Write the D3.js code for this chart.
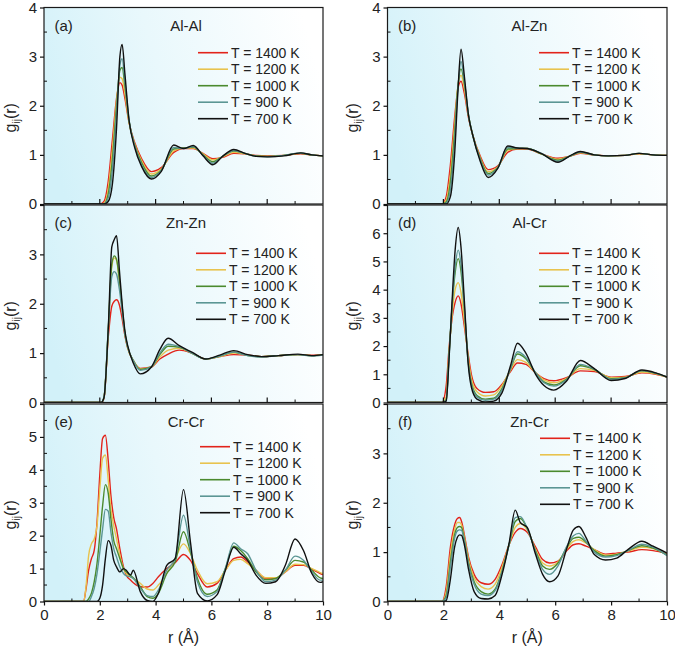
<!DOCTYPE html>
<html>
<head>
<meta charset="utf-8">
<script src="https://cdn.jsdelivr.net/npm/d3@7"></script>
<style>
  html, body { margin: 0; padding: 0; background: #ffffff; }
  svg { display: block; font-family: Arial, "Liberation Sans", sans-serif; }
</style>
</head>
<body>
<svg id="chart" width="675" height="650"></svg>
<script>
// ---------------- DATA ----------------
const tempLabels = ["T = 1400 K", "T = 1200 K", "T = 1000 K", "T = 900 K", "T = 700 K"];

// (a) Al-Al
const rAlAl = [0, 2.0, 2.15, 2.3, 2.45, 2.6, 2.72, 2.8, 2.9, 3.05, 3.25, 3.5, 3.85, 4.2, 4.65, 5.0, 5.35, 5.7, 6.05, 6.4, 6.8, 7.2, 7.6, 8.0, 8.6, 9.2, 9.6, 10];
const gAlAl_1400 = [0, 0, 0.05, 0.45, 1.3, 2.15, 2.47, 2.42, 2.15, 1.65, 1.25, 0.92, 0.66, 0.74, 1.05, 1.13, 1.13, 1.03, 0.92, 0.95, 1.03, 1.02, 0.99, 0.98, 0.99, 1.02, 1.0, 0.98];
const gAlAl_1200 = [0, 0, 0.02, 0.3, 1.1, 2.1, 2.58, 2.55, 2.25, 1.65, 1.22, 0.88, 0.61, 0.71, 1.08, 1.14, 1.14, 1.02, 0.9, 0.96, 1.05, 1.02, 0.98, 0.97, 0.99, 1.03, 1.0, 0.98];
const gAlAl_1000 = [0, 0, 0, 0.2, 0.9, 2.0, 2.72, 2.78, 2.4, 1.68, 1.2, 0.84, 0.57, 0.69, 1.12, 1.14, 1.16, 1.0, 0.86, 0.97, 1.08, 1.03, 0.98, 0.97, 0.99, 1.03, 1.0, 0.98];
const gAlAl_900  = [0, 0, 0, 0.12, 0.7, 1.85, 2.82, 2.96, 2.5, 1.7, 1.18, 0.8, 0.54, 0.68, 1.15, 1.13, 1.17, 0.99, 0.83, 0.97, 1.09, 1.03, 0.97, 0.96, 0.99, 1.04, 1.0, 0.98];
const gAlAl_700  = [0, 0, 0, 0.05, 0.4, 1.55, 3.0, 3.25, 2.65, 1.7, 1.15, 0.76, 0.51, 0.66, 1.2, 1.13, 1.19, 0.98, 0.8, 0.97, 1.11, 1.03, 0.97, 0.96, 0.98, 1.04, 1.0, 0.98];

// (b) Al-Zn
const rAlZn = [0, 1.95, 2.1, 2.25, 2.4, 2.52, 2.63, 2.75, 2.9, 3.05, 3.3, 3.6, 3.95, 4.3, 4.65, 5.0, 5.5, 6.1, 6.5, 6.9, 7.4, 7.9, 8.5, 9.0, 9.5, 10];
const gAlZn_1400 = [0, 0, 0.15, 0.8, 1.75, 2.35, 2.5, 2.25, 1.75, 1.4, 1.0, 0.7, 0.78, 1.05, 1.12, 1.12, 1.02, 0.93, 0.97, 1.03, 1.0, 0.98, 0.99, 1.02, 1.0, 0.99];
const gAlZn_1200 = [0, 0, 0.08, 0.6, 1.6, 2.4, 2.62, 2.35, 1.78, 1.4, 0.97, 0.66, 0.76, 1.09, 1.13, 1.13, 1.02, 0.91, 0.97, 1.04, 1.0, 0.98, 0.99, 1.02, 1.0, 0.99];
const gAlZn_1000 = [0, 0, 0.04, 0.45, 1.45, 2.4, 2.75, 2.45, 1.8, 1.4, 0.95, 0.62, 0.75, 1.12, 1.13, 1.13, 1.02, 0.89, 0.97, 1.05, 1.0, 0.98, 0.99, 1.03, 1.0, 0.99];
const gAlZn_900  = [0, 0, 0.02, 0.3, 1.25, 2.35, 2.9, 2.5, 1.8, 1.4, 0.93, 0.59, 0.74, 1.15, 1.14, 1.13, 1.03, 0.87, 0.97, 1.06, 1.0, 0.98, 0.99, 1.03, 1.0, 0.99];
const gAlZn_700  = [0, 0, 0, 0.15, 1.0, 2.3, 3.15, 2.6, 1.8, 1.4, 0.9, 0.54, 0.73, 1.18, 1.14, 1.13, 1.03, 0.85, 0.97, 1.07, 1.0, 0.98, 0.99, 1.03, 1.0, 0.99];

// (c) Zn-Zn
const rZnZn = [0, 2.05, 2.15, 2.3, 2.43, 2.52, 2.6, 2.7, 2.8, 2.9, 3.0, 3.2, 3.45, 3.85, 4.15, 4.45, 4.85, 5.3, 5.8, 6.3, 6.8, 7.3, 7.8, 8.4, 9.1, 9.6, 10];
const gZnZn_1400 = [0, 0, 0.08, 1.3, 1.95, 2.05, 2.08, 1.98, 1.7, 1.35, 1.1, 0.85, 0.69, 0.72, 0.88, 0.98, 1.06, 1.0, 0.88, 0.93, 0.97, 0.96, 0.93, 0.95, 0.97, 0.96, 0.97];
const gZnZn_1200 = [0, 0, 0.1, 1.4, 2.75, 2.93, 2.88, 2.45, 1.9, 1.4, 1.1, 0.86, 0.68, 0.72, 0.92, 1.06, 1.1, 1.0, 0.88, 0.93, 1.0, 0.96, 0.93, 0.95, 0.97, 0.95, 0.96];
const gZnZn_1000 = [0, 0, 0.1, 1.45, 2.8, 2.97, 2.9, 2.5, 1.95, 1.4, 1.12, 0.85, 0.67, 0.72, 0.97, 1.14, 1.12, 1.0, 0.88, 0.94, 1.02, 0.95, 0.93, 0.95, 0.97, 0.95, 0.97];
const gZnZn_900  = [0, 0, 0.1, 1.45, 2.55, 2.65, 2.6, 2.3, 1.85, 1.4, 1.12, 0.85, 0.65, 0.72, 1.0, 1.18, 1.13, 1.0, 0.88, 0.94, 1.02, 0.95, 0.92, 0.95, 0.97, 0.94, 0.96];
const gZnZn_700  = [0, 0, 0.1, 1.45, 3.15, 3.3, 3.38, 2.7, 2.0, 1.45, 1.15, 0.8, 0.58, 0.72, 1.07, 1.3, 1.15, 1.02, 0.88, 0.96, 1.05, 0.97, 0.93, 0.95, 0.98, 0.95, 0.97];

// (d) Al-Cr
const rAlCr = [0, 1.95, 2.1, 2.2, 2.3, 2.42, 2.53, 2.63, 2.75, 2.88, 3.0, 3.2, 3.5, 3.8, 4.1, 4.4, 4.65, 4.95, 5.3, 5.6, 5.95, 6.4, 6.9, 7.4, 8.0, 8.5, 9.1, 9.6, 10];
const gAlCr_1400 = [0, 0, 0.6, 1.9, 2.9, 3.55, 3.78, 3.5, 2.7, 1.75, 1.0, 0.5, 0.36, 0.38, 0.65, 1.1, 1.4, 1.35, 1.05, 0.85, 0.77, 0.88, 1.12, 1.1, 0.9, 0.92, 1.05, 1.0, 0.9];
const gAlCr_1200 = [0, 0, 0.2, 1.75, 3.0, 4.0, 4.25, 3.9, 2.9, 1.65, 0.85, 0.38, 0.23, 0.27, 0.6, 1.15, 1.52, 1.42, 1.05, 0.8, 0.7, 0.85, 1.2, 1.14, 0.88, 0.9, 1.08, 1.02, 0.9];
const gAlCr_1000 = [0, 0, 0.1, 1.65, 3.25, 4.6, 5.1, 4.65, 3.3, 1.55, 0.7, 0.25, 0.12, 0.15, 0.5, 1.2, 1.72, 1.55, 1.05, 0.73, 0.62, 0.82, 1.3, 1.17, 0.84, 0.88, 1.12, 1.03, 0.9];
const gAlCr_900  = [0, 0, 0.08, 1.6, 3.3, 4.8, 5.4, 4.9, 3.4, 1.5, 0.65, 0.2, 0.08, 0.12, 0.45, 1.2, 1.8, 1.6, 1.05, 0.7, 0.58, 0.8, 1.35, 1.18, 0.82, 0.87, 1.13, 1.04, 0.9];
const gAlCr_700  = [0, 0, 0.05, 1.5, 3.4, 5.4, 6.2, 5.5, 3.6, 1.45, 0.55, 0.12, 0.02, 0.05, 0.35, 1.3, 2.1, 1.75, 1.0, 0.6, 0.44, 0.75, 1.49, 1.2, 0.78, 0.85, 1.15, 1.05, 0.9];

// (e) Cr-Cr
const rCrCr = [0, 1.42, 1.5, 1.6, 1.7, 1.8, 1.9, 2.0, 2.1, 2.2, 2.3, 2.4, 2.5, 2.6, 2.72, 2.85, 2.95, 3.1, 3.2, 3.45, 3.7, 3.9, 4.1, 4.4, 4.7, 5.0, 5.25, 5.5, 5.85, 6.2, 6.5, 6.8, 7.05, 7.3, 7.6, 7.95, 8.3, 8.65, 9.0, 9.3, 9.6, 9.9, 10];
const gCrCr_1400 = [0, 0, 0.35, 0.95, 1.3, 1.55, 2.4, 3.85, 4.95, 5.05, 4.3, 3.2, 2.55, 2.2, 1.6, 1.05, 0.8, 0.65, 0.57, 0.45, 0.44, 0.55, 0.75, 1.0, 1.18, 1.43, 1.25, 0.85, 0.44, 0.55, 0.95, 1.3, 1.35, 1.2, 0.95, 0.7, 0.7, 0.9, 1.1, 1.1, 0.98, 0.85, 0.82];
const gCrCr_1200 = [0, 0, 0.4, 1.4, 1.75, 1.9, 2.3, 3.4, 4.35, 4.45, 3.7, 2.8, 2.3, 1.9, 1.4, 1.0, 0.85, 0.75, 0.7, 0.55, 0.38, 0.35, 0.5, 0.85, 1.3, 1.75, 1.45, 0.95, 0.54, 0.6, 0.95, 1.25, 1.28, 1.15, 0.95, 0.72, 0.72, 0.9, 1.13, 1.12, 1.0, 0.88, 0.85];
const gCrCr_1000 = [0, 0, 0, 0.08, 0.25, 0.6, 1.15, 2.0, 2.9, 3.55, 3.3, 2.5, 1.85, 1.6, 1.3, 1.0, 0.9, 0.8, 0.72, 0.45, 0.15, 0.1, 0.25, 0.85, 1.2, 2.12, 1.5, 0.7, 0.22, 0.35, 1.0, 1.68, 1.55, 1.3, 0.9, 0.66, 0.7, 0.95, 1.25, 1.2, 0.95, 0.72, 0.7];
const gCrCr_900  = [0, 0, 0, 0, 0.15, 0.4, 0.85, 1.5, 2.2, 2.8, 2.75, 2.1, 1.6, 1.35, 1.05, 0.85, 0.78, 0.75, 0.7, 0.4, 0.18, 0.15, 0.35, 0.95, 1.3, 2.62, 1.6, 0.6, 0.15, 0.3, 1.0, 1.78, 1.6, 1.45, 0.95, 0.6, 0.65, 0.95, 1.38, 1.25, 0.9, 0.65, 0.65];
const gCrCr_700  = [0, 0, 0, 0, 0, 0, 0, 0.1, 0.5, 1.3, 1.85, 1.7, 1.25, 1.05, 0.9, 1.0, 0.95, 0.8, 0.95, 0.3, 0.03, 0.0, 0.25, 1.1, 1.3, 3.4, 1.8, 0.25, 0.02, 0.2, 0.95, 1.65, 1.45, 1.25, 0.8, 0.55, 0.6, 1.1, 1.9, 1.55, 0.85, 0.58, 0.6];

// (f) Zn-Cr
const rZnCr = [0, 1.95, 2.1, 2.25, 2.4, 2.5, 2.58, 2.65, 2.75, 2.9, 3.1, 3.35, 3.6, 3.85, 4.1, 4.35, 4.57, 4.75, 5.0, 5.3, 5.55, 5.8, 6.1, 6.4, 6.65, 6.85, 7.1, 7.4, 7.8, 8.2, 8.6, 9.1, 9.5, 10];
const gZnCr_1400 = [0, 0, 0.3, 1.1, 1.55, 1.68, 1.7, 1.62, 1.35, 0.9, 0.55, 0.38, 0.35, 0.45, 0.75, 1.15, 1.4, 1.48, 1.4, 1.1, 0.85, 0.78, 0.82, 1.02, 1.15, 1.17, 1.12, 1.05, 0.96, 0.98, 1.0, 1.05, 1.03, 0.97];
const gZnCr_1200 = [0, 0, 0.2, 0.95, 1.45, 1.6, 1.6, 1.55, 1.3, 0.85, 0.48, 0.3, 0.25, 0.35, 0.7, 1.15, 1.5, 1.58, 1.45, 1.05, 0.78, 0.72, 0.8, 1.05, 1.22, 1.25, 1.18, 1.05, 0.94, 0.96, 1.02, 1.1, 1.07, 0.95];
const gZnCr_1000 = [0, 0, 0.12, 0.8, 1.35, 1.5, 1.52, 1.5, 1.25, 0.78, 0.4, 0.2, 0.15, 0.25, 0.62, 1.15, 1.62, 1.68, 1.48, 1.02, 0.72, 0.65, 0.78, 1.08, 1.28, 1.3, 1.2, 1.03, 0.92, 0.95, 1.03, 1.13, 1.08, 0.94];
const gZnCr_900  = [0, 0, 0.08, 0.7, 1.28, 1.43, 1.45, 1.44, 1.22, 0.75, 0.35, 0.15, 0.12, 0.22, 0.6, 1.15, 1.7, 1.72, 1.48, 1.0, 0.65, 0.55, 0.72, 1.1, 1.33, 1.38, 1.22, 1.0, 0.9, 0.93, 1.03, 1.16, 1.1, 0.93];
const gZnCr_700  = [0, 0, 0.02, 0.45, 1.1, 1.3, 1.35, 1.34, 1.15, 0.65, 0.2, 0.06, 0.05, 0.12, 0.55, 1.18, 1.85, 1.6, 1.5, 0.95, 0.55, 0.4, 0.52, 1.05, 1.45, 1.52, 1.3, 0.95, 0.84, 0.88, 1.05, 1.22, 1.12, 0.98];

const xTicks = [0, 2, 4, 6, 8, 10];

// ---------------- LAYOUT / STYLE ----------------
const colors = ["#e2231a", "#e8c34e", "#4b8a2e", "#5b9694", "#111111"];
const cols = [[44, 323], [387.5, 667]];
const rows = [[7.5, 204], [205, 402.5], [404, 601.5]];

const panels = [
  { letter: "(a)", title: "Al-Al", col: 0, row: 0, ymax: 4, ylabMax: 4, r: rAlAl, g: [gAlAl_1400, gAlAl_1200, gAlAl_1000, gAlAl_900, gAlAl_700], leg: [154, 45.2] },
  { letter: "(b)", title: "Al-Zn", col: 1, row: 0, ymax: 4, ylabMax: 4, r: rAlZn, g: [gAlZn_1400, gAlZn_1200, gAlZn_1000, gAlZn_900, gAlZn_700], leg: [151.5, 45.2] },
  { letter: "(c)", title: "Zn-Zn", col: 0, row: 1, ymax: 4, ylabMax: 3, r: rZnZn, g: [gZnZn_1400, gZnZn_1200, gZnZn_1000, gZnZn_900, gZnZn_700], leg: [152, 48.3] },
  { letter: "(d)", title: "Al-Cr", col: 1, row: 1, ymax: 7, ylabMax: 6, r: rAlCr, g: [gAlCr_1400, gAlCr_1200, gAlCr_1000, gAlCr_900, gAlCr_700], leg: [151.5, 48.3] },
  { letter: "(e)", title: "Cr-Cr", col: 0, row: 2, ymax: 6, ylabMax: 5, r: rCrCr, g: [gCrCr_1400, gCrCr_1200, gCrCr_1000, gCrCr_900, gCrCr_700], leg: [156, 42.7] },
  { letter: "(f)", title: "Zn-Cr", col: 1, row: 2, ymax: 4, ylabMax: 3, r: rZnCr, g: [gZnCr_1400, gZnCr_1200, gZnCr_1000, gZnCr_900, gZnCr_700], leg: [152.5, 34.3] }
];

const svg = d3.select("#chart");
const defs = svg.append("defs");
const grad = defs.append("linearGradient").attr("id", "bg")
  .attr("x1", "0").attr("y1", "0.6").attr("x2", "1").attr("y2", "0.4");
grad.append("stop").attr("offset", "0%").attr("stop-color", "#d2f1f9");
grad.append("stop").attr("offset", "45%").attr("stop-color", "#e9f8fc");
grad.append("stop").attr("offset", "100%").attr("stop-color", "#ffffff");

const FONT = "Arial, 'Liberation Sans', sans-serif";

panels.forEach((p, i) => {
  const [x0, x1] = cols[p.col];
  const [yTop, yBot] = rows[p.row];
  const x = d3.scaleLinear().domain([0, 10]).range([x0, x1]);
  const y = d3.scaleLinear().domain([0, p.ymax]).range([yBot, yTop]);
  const g = svg.append("g");

  defs.append("clipPath").attr("id", "clip" + i)
    .append("rect").attr("x", x0).attr("y", yTop).attr("width", x1 - x0).attr("height", yBot - yTop);

  g.append("rect").attr("x", x0).attr("y", yTop).attr("width", x1 - x0).attr("height", yBot - yTop)
    .attr("fill", "url(#bg)");

  // curves
  const line = d3.line().x(d => x(d[0])).y(d => y(d[1])).curve(d3.curveMonotoneX);
  const lines = g.append("g").attr("clip-path", `url(#clip${i})`);
  p.g.forEach((vals, k) => {
    const pts = p.r.map((rv, j) => [rv, vals[j]]);
    lines.append("path").attr("d", line(pts)).attr("fill", "none")
      .attr("stroke", colors[k]).attr("stroke-width", 1.4).attr("stroke-linejoin", "round");
  });

  // frame
  g.append("rect").attr("x", x0).attr("y", yTop).attr("width", x1 - x0).attr("height", yBot - yTop)
    .attr("fill", "none").attr("stroke", "#1a1a1a").attr("stroke-width", 1.2);

  // y axis: major ticks outward, minor inward at half units
  const yMajor = d3.range(0, p.ymax + 0.001, 1);
  const yAxis = d3.axisLeft(y).tickValues(yMajor).tickSize(4).tickPadding(3)
    .tickFormat(d => d <= p.ylabMax ? d3.format("d")(d) : "");
  const ya = g.append("g").attr("transform", `translate(${x0},0)`).call(yAxis);
  ya.select(".domain").remove();
  ya.selectAll("line").attr("stroke", "#111").attr("stroke-width", 1.2);
  ya.selectAll("text").attr("font-size", 15).attr("font-family", FONT).attr("fill", "#222");
  const yMinor = d3.range(0.5, p.ymax, 1);
  g.append("g").selectAll("line").data(yMinor).join("line")
    .attr("x1", x0).attr("x2", x0 + 3).attr("y1", d => y(d)).attr("y2", d => y(d))
    .attr("stroke", "#111").attr("stroke-width", 1);

  // x axis ticks
  const bottomRow = p.row === 2;
  const xMinor = [1, 3, 5, 7, 9];
  g.append("g").selectAll("line").data(xMinor).join("line")
    .attr("x1", d => x(d)).attr("x2", d => x(d)).attr("y1", yBot).attr("y2", yBot - 3)
    .attr("stroke", "#111").attr("stroke-width", 1);
  if (bottomRow) {
    const xAxis = d3.axisBottom(x).tickValues(xTicks).tickSize(4).tickPadding(4).tickFormat(d3.format("d"));
    const xa = g.append("g").attr("transform", `translate(0,${yBot})`).call(xAxis);
    xa.select(".domain").remove();
    xa.selectAll("line").attr("stroke", "#111").attr("stroke-width", 1.2);
    xa.selectAll("text").attr("font-size", 15).attr("font-family", FONT).attr("fill", "#222");
    g.append("text").attr("x", (x0 + x1) / 2).attr("y", 643).attr("text-anchor", "middle")
      .attr("font-size", 16).attr("font-family", FONT).attr("fill", "#222").text("r (Å)");
  } else {
    g.append("g").selectAll("line").data(xTicks.slice(1, -1)).join("line")
      .attr("x1", d => x(d)).attr("x2", d => x(d)).attr("y1", yBot).attr("y2", yBot - 5)
      .attr("stroke", "#111").attr("stroke-width", 1.2);
  }

  // y label g_ij(r)
  const lx = p.col === 0 ? 16 : 358;
  const ly = (yTop + yBot) / 2 + 12;
  const yl = g.append("text").attr("transform", `translate(${lx},${ly}) rotate(-90)`)
    .attr("text-anchor", "middle").attr("font-size", 16).attr("font-family", FONT).attr("fill", "#222");
  yl.append("tspan").text("g");
  yl.append("tspan").attr("font-size", 10).attr("dy", 4).text("ij");
  yl.append("tspan").attr("dy", -4).text("(r)");

  // letter and title
  g.append("text").attr("x", x0 + 10.5).attr("y", yTop + 23).attr("font-size", 15)
    .attr("font-family", FONT).attr("fill", "#222").text(p.letter);
  g.append("text").attr("x", x0 + 142).attr("y", yTop + 23).attr("text-anchor", "middle")
    .attr("font-size", 15).attr("font-family", FONT).attr("fill", "#222").text(p.title);

  // legend
  const lg = g.append("g").attr("transform", `translate(${x0 + p.leg[0]},${yTop + p.leg[1]})`);
  tempLabels.forEach((t, k) => {
    const yy = k * 16.5;
    lg.append("line").attr("x1", 0).attr("x2", 30).attr("y1", yy).attr("y2", yy)
      .attr("stroke", colors[k]).attr("stroke-width", 1.6);
    lg.append("text").attr("x", 33).attr("y", yy + 5).attr("font-size", 14)
      .attr("font-family", FONT).attr("fill", "#222").text(t);
  });
});
</script>
</body>
</html>
